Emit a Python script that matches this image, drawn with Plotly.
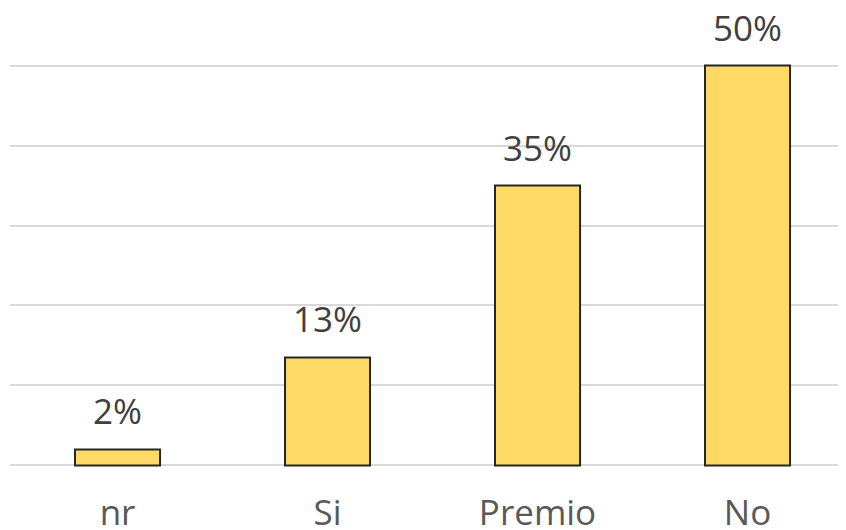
import plotly.graph_objects as go

categories = ["nr", "Si", "Premio", "No"]
values = [0.02, 0.135, 0.35, 0.50]
labels = ["2%", "13%", "35%", "50%"]

fig = go.Figure()
fig.add_trace(go.Bar(
    x=categories, y=values,
    width=0.405,
    marker=dict(color="#FFD966", line=dict(color="#262626", width=2)),
    hoverinfo="skip",
))

for c, v, t in zip(categories, values, labels):
    fig.add_annotation(x=c, y=v, text=t, showarrow=False, yanchor="bottom",
                       yshift=13, font=dict(family="Open Sans", size=35, color="#404040"))

fig.update_layout(
    width=846, height=530,
    margin=dict(l=2, r=0, t=56, b=71),
    plot_bgcolor="white", paper_bgcolor="white",
    showlegend=False,
    xaxis=dict(range=[-0.512, 3.507], showgrid=False, zeroline=False, showline=False,
               ticks="", tickfont=dict(family="Open Sans", size=35, color="#595959"),
               ticklabelstandoff=22, automargin=False),
    yaxis=dict(range=[-0.002, 0.502], dtick=0.1, tick0=0, showgrid=True, gridcolor="#D9D9D9",
               gridwidth=2, zeroline=False, showticklabels=False, ticks="", automargin=False),
)

fig.write_html("out.html")
